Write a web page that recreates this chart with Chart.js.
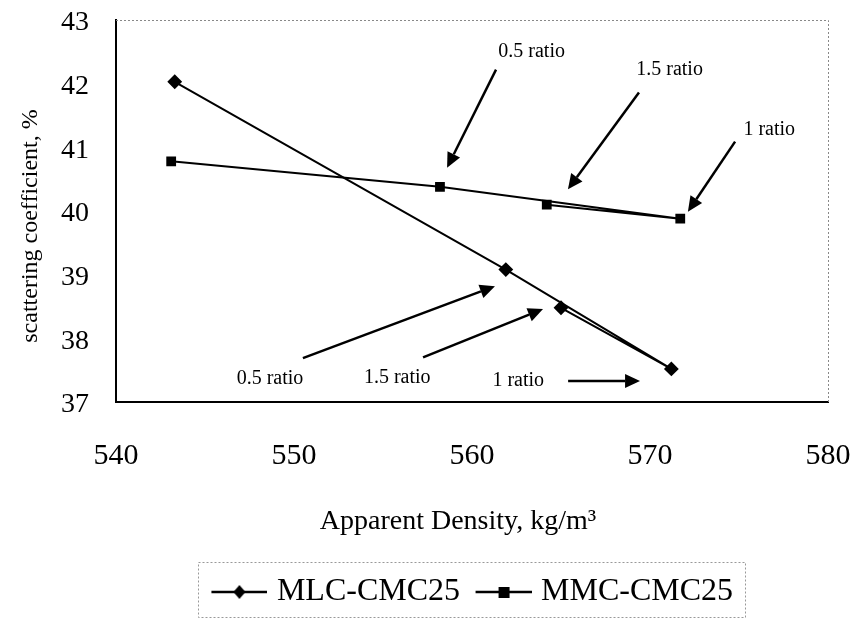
<!DOCTYPE html>
<html>
<head>
<meta charset="utf-8">
<script src="https://cdn.jsdelivr.net/npm/chart.js@4.4.1/dist/chart.umd.min.js"></script>
<style>
  html, body { margin: 0; padding: 0; background: #fff; }
  #wrap { width: 855px; height: 622px; }
</style>
</head>
<body>
<div id="wrap"><canvas id="densityChart"></canvas></div>
<script>
// density (x) and scattering coefficient (y), order: base, 0.5, 1, 1.5 ratio
const mlcDensity = [543.3, 561.9, 571.2, 565.0];
const mlcScatter = [42.03, 39.08, 37.52, 38.48];
const mmcDensity = [543.1, 558.2, 571.7, 564.2];
const mmcScatter = [40.78, 40.38, 39.88, 40.10];

const xTicks = [540, 550, 560, 570, 580];
const yTicks = [37, 38, 39, 40, 41, 42, 43];

// annotations in data units: label position, arrow start, arrow end
const noteText = ["0.5 ratio", "1.5 ratio", "1 ratio", "0.5 ratio", "1.5 ratio", "1 ratio"];
const noteAt = [[563.35, 42.5], [571.1, 42.22], [576.7, 41.28], [548.65, 37.36], [555.8, 37.38], [562.6, 37.34]];
const arrowFrom = [[561.35, 42.22], [569.38, 41.86], [574.78, 41.09], [550.5, 37.69], [557.25, 37.7], [565.4, 37.33]];
const arrowTo = [[558.6, 40.68], [565.39, 40.34], [572.13, 39.99], [561.29, 38.82], [563.99, 38.46], [569.44, 37.33]];

const serif = "'Liberation Serif', 'Times New Roman', serif";

function legendIcon(kind) {
    const c = document.createElement("canvas");
    c.width = 63; c.height = 20;
    const g = c.getContext("2d");
    g.strokeStyle = "#000"; g.lineWidth = 2.5;
    g.beginPath(); g.moveTo(7, 10); g.lineTo(63, 10); g.stroke();
    g.fillStyle = "#000";
    if (kind === "diamond") {
        g.beginPath(); g.moveTo(35, 3); g.lineTo(41, 10); g.lineTo(35, 17); g.lineTo(29, 10); g.closePath(); g.fill();
    } else {
        g.fillRect(30, 5, 11, 11);
    }
    return c;
}

const annotations = {
    id: "annotations",
    afterLayout(chart) {
        // legend sits centred under the plot area, not the whole canvas
        const l = chart.legend, a = chart.chartArea;
        const shift = (a.left + a.right) / 2 - (l.left + l.right) / 2;
        l.left += shift; l.right += shift;
    },
    afterDatasetsDraw(chart) {
        const { ctx, scales: { x, y }, chartArea: a } = chart;
        ctx.save();
        // dotted top/right frame
        ctx.strokeStyle = "#888"; ctx.lineWidth = 1; ctx.setLineDash([2, 2]);
        ctx.beginPath();
        ctx.moveTo(a.left, a.top + 0.5); ctx.lineTo(a.right + 0.5, a.top + 0.5); ctx.lineTo(a.right + 0.5, a.bottom);
        ctx.stroke();
        ctx.setLineDash([]);

        ctx.fillStyle = "#000"; ctx.strokeStyle = "#000"; ctx.lineWidth = 2.5;
        ctx.font = "20px " + serif;
        ctx.textAlign = "center"; ctx.textBaseline = "middle";
        noteText.forEach((t, i) => {
            ctx.fillText(t, x.getPixelForValue(noteAt[i][0]), y.getPixelForValue(noteAt[i][1]));
            const x1 = x.getPixelForValue(arrowFrom[i][0]), y1 = y.getPixelForValue(arrowFrom[i][1]);
            const x2 = x.getPixelForValue(arrowTo[i][0]), y2 = y.getPixelForValue(arrowTo[i][1]);
            const ang = Math.atan2(y2 - y1, x2 - x1);
            const hl = 15, hw = 7;
            const bx = x2 - hl * Math.cos(ang), by = y2 - hl * Math.sin(ang);
            ctx.beginPath(); ctx.moveTo(x1, y1); ctx.lineTo(bx, by); ctx.stroke();
            ctx.beginPath();
            ctx.moveTo(x2, y2);
            ctx.lineTo(bx + hw * Math.sin(ang), by - hw * Math.cos(ang));
            ctx.lineTo(bx - hw * Math.sin(ang), by + hw * Math.cos(ang));
            ctx.closePath(); ctx.fill();
        });
        ctx.restore();
    },
    afterDraw(chart) {
        // dotted box around the legend items
        const { ctx } = chart;
        const hb = chart.legend.legendHitBoxes;
        if (!hb || !hb.length) return;
        const first = hb[0], last = hb[hb.length - 1];
        const cy = first.top + first.height / 2;
        ctx.save();
        ctx.strokeStyle = "#999"; ctx.lineWidth = 1; ctx.setLineDash([2, 2]);
        ctx.strokeRect(Math.round(first.left - 13) + 0.5, Math.round(cy - 30) + 0.5,
            Math.round(last.left + last.width + 12 - (first.left - 13)), 55);
        ctx.restore();
    }
};

let chartCtx = document.getElementById("densityChart");
new Chart(chartCtx, {
    type: "scatter",
    data: {
        datasets: [{
            label: "MLC-CMC25",
            data: mlcDensity.map((v, i) => ({ x: v, y: mlcScatter[i] })),
            showLine: true,
            borderColor: "#000",
            backgroundColor: "#000",
            borderWidth: 2,
            pointStyle: "rectRot",
            pointRadius: 6,
            pointHoverRadius: 6
        }, {
            label: "MMC-CMC25",
            data: mmcDensity.map((v, i) => ({ x: v, y: mmcScatter[i] })),
            showLine: true,
            borderColor: "#000",
            backgroundColor: "#000",
            borderWidth: 2,
            pointStyle: "rect",
            pointRadius: 5.5,
            pointHoverRadius: 5.5
        }]
    },
    options: {
        responsive: true,
        maintainAspectRatio: false,
        animation: false,
        layout: { padding: { top: 20, right: 27, left: 0, bottom: 4 } },
        plugins: {
            tooltip: { enabled: false },
            legend: {
                position: "bottom",
                labels: {
                    color: "#000",
                    font: { family: serif, size: 32 },
                    usePointStyle: true,
                    pointStyleWidth: 50,
                    padding: 15,
                    generateLabels(chart) {
                        return chart.data.datasets.map((d, i) => ({
                            text: d.label,
                            fontColor: "#000",
                            pointStyle: legendIcon(i === 0 ? "diamond" : "square"),
                            datasetIndex: i,
                            lineWidth: 0
                        }));
                    }
                }
            }
        },
        scales: {
            x: {
                type: "linear",
                min: 540, max: 580,
                afterBuildTicks: s => { s.ticks = xTicks.map(v => ({ value: v })); },
                afterFit: s => { s.height = 159; s.paddingLeft = 0; s.paddingRight = 0; },
                border: { color: "#000", width: 2 },
                grid: { drawOnChartArea: false, drawTicks: false },
                ticks: { color: "#000", font: { family: serif, size: 30 }, padding: 36 },
                title: { display: true, text: "Apparent Density, kg/m\u00b3    ", color: "#000", font: { family: serif, size: 28 }, padding: { top: 0, bottom: 23 } }
            },
            y: {
                type: "linear",
                min: 37, max: 43,
                afterBuildTicks: s => { s.ticks = yTicks.map(v => ({ value: v })); },
                afterFit: s => { s.width = 116; s.paddingTop = 0; s.paddingBottom = 0; },
                border: { color: "#000", width: 2 },
                grid: { drawOnChartArea: false, drawTicks: false },
                ticks: { color: "#000", font: { family: serif, size: 28 }, padding: 27, labelOffset: 3 },
                title: { display: true, text: "scattering coefficient, %     ", color: "#000", font: { family: serif, size: 24 }, padding: { top: 16, bottom: 0 } }
            }
        }
    },
    plugins: [annotations]
});
</script>
</body>
</html>
